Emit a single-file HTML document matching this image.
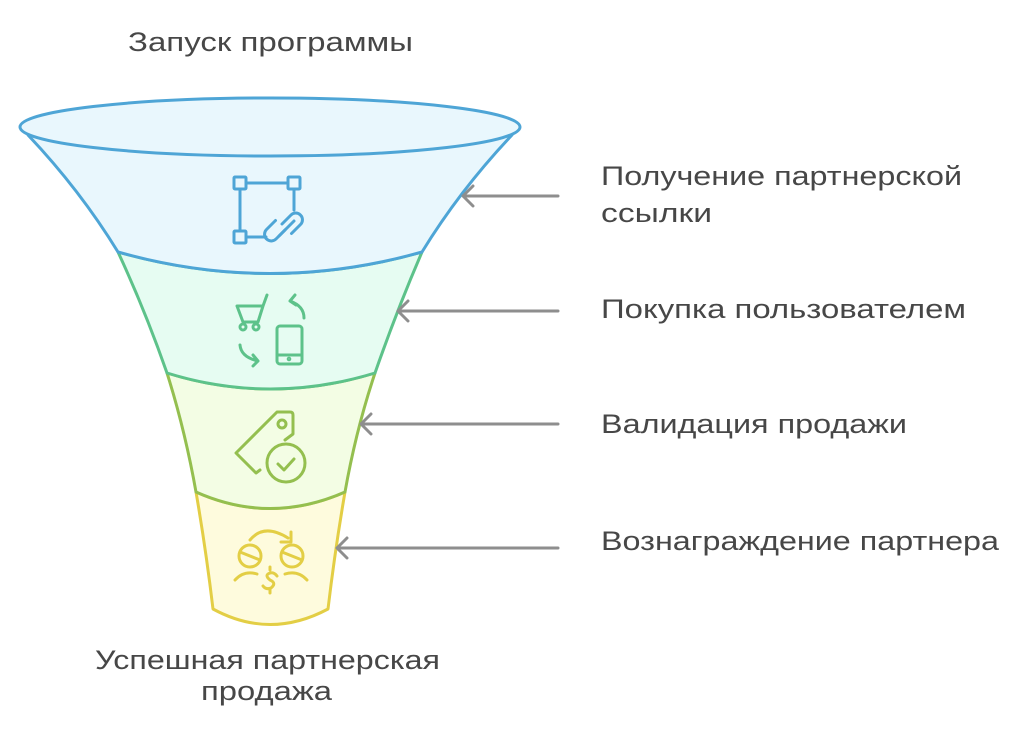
<!DOCTYPE html>
<html><head><meta charset="utf-8"><style>
html,body{margin:0;padding:0;background:#fff;}
svg{display:block}
text{font-family:"Liberation Sans","DejaVu Sans",sans-serif;fill:#474747;font-size:27px;}
</style></head><body>
<svg width="1016" height="736" viewBox="0 0 1016 736" xmlns="http://www.w3.org/2000/svg">
<g stroke-width="3" stroke-linejoin="round" stroke-linecap="round">
<path d="M196 492 Q206 550 213 609 Q270 640 328 609 Q335 550 345 492 Q270 525 196 492Z" fill="#FEFBDD" stroke="#E3CE45"/>
<path d="M167 373 Q185 430 196 492 Q270 525 345 492 Q356 430 375 373 Q270 405 167 373Z" fill="#F3FDE4" stroke="#94BF4F"/>
<path d="M118 252 Q145 310 167 373 Q270 405 375 373 Q397 310 422 252 Q270 295 118 252Z" fill="#E6FCF2" stroke="#5DC28A"/>
<path d="M28 135 Q80 190 118 252 Q270 295 422 252 Q460 190 512 135 Z" fill="#E9F7FD" stroke="#4EA5D6"/>
<ellipse cx="270" cy="127" rx="250" ry="29" fill="#E9F7FD" stroke="#4EA5D6"/>
</g>
<g fill="none" stroke="#4EA5D6" stroke-width="3" stroke-linecap="round">
<rect x="234" y="177" width="12" height="12" rx="1"/>
<rect x="288" y="177" width="12" height="12" rx="1"/>
<rect x="234" y="231" width="12" height="12" rx="1"/>
<line x1="246" y1="183" x2="288" y2="183"/>
<line x1="240" y1="189" x2="240" y2="231"/>
<line x1="294" y1="189" x2="294" y2="210"/>
<line x1="246" y1="237" x2="266" y2="237"/>
<path d="M282 224 l9 -9 a6.5 6.5 0 0 1 9.5 9.5 l-9 9"/>
<path d="M285 230 l-9 9 a6.5 6.5 0 0 1 -9.5 -9.5 l9 -9"/>
<line x1="279" y1="236" x2="294" y2="221"/>
</g>
<g fill="none" stroke="#5DC28A" stroke-width="3" stroke-linecap="round" stroke-linejoin="round">
<path d="M237 306 h26 l4 -11 M237 306 l6 16 h15 l5 -16"/>
<circle cx="243" cy="327" r="3"/><circle cx="256" cy="327" r="3"/>
<path d="M304 318 q0 -12 -14 -17 M290 301 l5 -6 M290 301 l6 4"/>
<rect x="277" y="326" width="25" height="38" rx="3"/>
<line x1="277" y1="355" x2="302" y2="355"/>
<circle cx="289" cy="359" r="0.8" fill="#5DC28A"/>
<path d="M240 345 q1 12 18 16 M258 361 l-5 -6 M258 361 l-5 5"/>
</g>
<g fill="none" stroke="#94BF4F" stroke-width="3" stroke-linecap="round" stroke-linejoin="round">
<path d="M285 440 l8 -6 v-19 q0 -3 -3 -3 h-13 l-41 41 l20 20 l4 -3"/>
<circle cx="282" cy="424" r="4"/>
<circle cx="286" cy="463" r="19"/>
<path d="M278 464 l6 6 l10 -11"/>
</g>
<g fill="none" stroke="#E3CE45" stroke-width="3" stroke-linecap="round" stroke-linejoin="round">
<path d="M250 540 q14 -17 38 -2 M291 532 v10 h-10"/>
<circle cx="250" cy="556" r="11"/><line x1="240" y1="552" x2="260" y2="560"/>
<circle cx="292" cy="556" r="11"/><line x1="282" y1="552" x2="302" y2="560"/>
<path d="M235 580 q9 -10 22 -6 M307 580 q-9 -10 -22 -6"/>
<path d="M277 576 q-3 -4 -7 -3 q-6 2 0 7 q7 3 1 8 q-5 2 -8 -2 M270 570 v-3 M270 589 v4"/>
</g>
<g fill="none" stroke="#8e8e8e" stroke-width="3" stroke-linecap="round" stroke-linejoin="round">
<path d="M558 196 H463 M473 186 l-10 10 l10 10"/>
<path d="M558 311 H398 M408 301 l-10 10 l10 10"/>
<path d="M558 424 H361 M371 414 l-10 10 l10 10"/>
<path d="M558 548 H337 M347 538 l-10 10 l10 10"/>
</g>
<text x="128" y="51" textLength="285" lengthAdjust="spacingAndGlyphs">Запуск программы</text>
<text x="601" y="185" textLength="361" lengthAdjust="spacingAndGlyphs">Получение партнерской</text>
<text x="601" y="222" textLength="111" lengthAdjust="spacingAndGlyphs">ссылки</text>
<text x="601" y="318" textLength="365" lengthAdjust="spacingAndGlyphs">Покупка пользователем</text>
<text x="601" y="433" textLength="306" lengthAdjust="spacingAndGlyphs">Валидация продажи</text>
<text x="601" y="550" textLength="398" lengthAdjust="spacingAndGlyphs">Вознаграждение партнера</text>
<text x="95" y="669" textLength="345" lengthAdjust="spacingAndGlyphs">Успешная партнерская</text>
<text x="201" y="700" textLength="131" lengthAdjust="spacingAndGlyphs">продажа</text>
</svg>
</body></html>
